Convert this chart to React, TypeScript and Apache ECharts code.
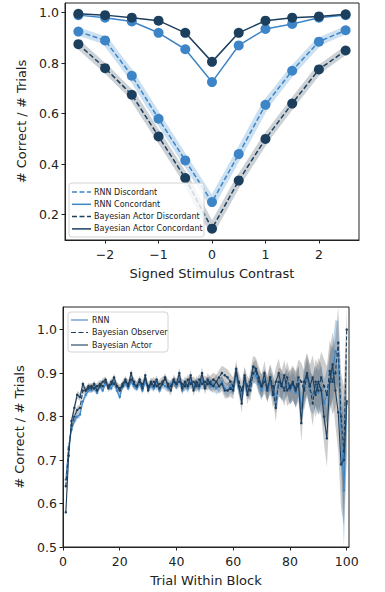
import React, { useEffect, useRef } from "react";
import * as echarts from "echarts";

// ---------- Top panel data ----------
const contrast = [-2.5, -2, -1.5, -1, -0.5, 0, 0.5, 1, 1.5, 2, 2.5];
const rnnDiscordant = [0.925, 0.89, 0.75, 0.58, 0.415, 0.25, 0.44, 0.635, 0.77, 0.885, 0.93];
const rnnConcordant = [0.99, 0.98, 0.965, 0.92, 0.855, 0.725, 0.87, 0.935, 0.955, 0.98, 0.99];
const actorDiscordant = [0.875, 0.78, 0.675, 0.51, 0.345, 0.145, 0.335, 0.5, 0.64, 0.775, 0.85];
const actorConcordant = [0.995, 0.99, 0.98, 0.968, 0.92, 0.805, 0.92, 0.968, 0.98, 0.985, 0.993];

const topXTicks = [-2, -1, 0, 1, 2];
const topYTicks = [0.2, 0.4, 0.6, 0.8, 1.0];
const topLegend = ["RNN Discordant", "RNN Concordant", "Bayesian Actor Discordant", "Bayesian Actor Concordant"];

// ---------- Bottom panel data ----------
const trials = Array.from({ length: 100 }, (_, i) => i + 1);
const rnnCurve = [
  0.655, 0.73, 0.77, 0.79, 0.8, 0.805, 0.835, 0.85, 0.86, 0.86,
  0.865, 0.855, 0.87, 0.86, 0.875, 0.87, 0.865, 0.88, 0.86, 0.845,
  0.87, 0.875, 0.865, 0.88, 0.87, 0.865, 0.875, 0.86, 0.88, 0.865,
  0.87, 0.865, 0.88, 0.86, 0.875, 0.87, 0.865, 0.875, 0.88, 0.87,
  0.885, 0.86, 0.875, 0.865, 0.88, 0.87, 0.875, 0.865, 0.885, 0.87,
  0.88, 0.87, 0.875, 0.865, 0.87, 0.88, 0.865, 0.86, 0.87, 0.865,
  0.895, 0.865, 0.85, 0.88, 0.86, 0.87, 0.9, 0.895, 0.875, 0.86,
  0.885, 0.86, 0.875, 0.87, 0.835, 0.875, 0.87, 0.865, 0.88, 0.86,
  0.87, 0.855, 0.88, 0.82, 0.865, 0.89, 0.86, 0.85, 0.87, 0.855,
  0.865, 0.83, 0.85, 0.88, 0.9, 0.95, 0.94, 0.78, 0.63, 0.83,
];
const observerCurve = [
  0.64, 0.725, 0.78, 0.8, 0.815, 0.82, 0.86, 0.86, 0.865, 0.87,
  0.865, 0.87, 0.875, 0.87, 0.88, 0.87, 0.88, 0.875, 0.87, 0.865,
  0.87, 0.88, 0.875, 0.885, 0.88, 0.87, 0.88, 0.875, 0.885, 0.87,
  0.875, 0.88, 0.87, 0.875, 0.88, 0.885, 0.875, 0.87, 0.88, 0.875,
  0.88, 0.875, 0.87, 0.885, 0.875, 0.88, 0.87, 0.885, 0.875, 0.88,
  0.875, 0.88, 0.885, 0.88, 0.89, 0.9, 0.895, 0.89, 0.88, 0.87,
  0.9, 0.88, 0.86, 0.89, 0.87, 0.86, 0.9, 0.905, 0.88, 0.87,
  0.88, 0.865, 0.89, 0.87, 0.82, 0.88, 0.875, 0.86, 0.89, 0.865,
  0.875, 0.865, 0.89, 0.88, 0.86, 0.895, 0.87, 0.83, 0.88, 0.86,
  0.89, 0.87, 0.85, 0.905, 0.88, 0.9, 0.97, 0.8, 0.72, 1.0,
];
const actorCurve = [
  0.58, 0.71, 0.79, 0.82, 0.85, 0.845, 0.875, 0.86, 0.87, 0.865,
  0.875, 0.86, 0.87, 0.88, 0.885, 0.865, 0.875, 0.89, 0.87, 0.86,
  0.875, 0.885, 0.87, 0.9, 0.875, 0.87, 0.885, 0.865, 0.895, 0.86,
  0.88, 0.87, 0.885, 0.865, 0.875, 0.89, 0.87, 0.86, 0.885, 0.875,
  0.9, 0.865, 0.88, 0.87, 0.895, 0.86, 0.88, 0.87, 0.9, 0.865,
  0.885, 0.875, 0.87, 0.88, 0.87, 0.875, 0.86, 0.86, 0.865, 0.86,
  0.91, 0.87, 0.83, 0.895, 0.85, 0.88, 0.915, 0.91, 0.89, 0.87,
  0.9, 0.86, 0.89, 0.85, 0.88, 0.9, 0.87, 0.895, 0.86, 0.87,
  0.88, 0.86, 0.875, 0.785, 0.88, 0.9, 0.87, 0.89, 0.85, 0.88,
  0.86, 0.8, 0.75, 0.88, 0.92, 0.86, 0.81, 0.69, 0.7, 0.835,
];
const bayesSpread = [
  0.012, 0.01, 0.01, 0.01, 0.009, 0.009, 0.008, 0.008, 0.008, 0.008,
  0.008, 0.008, 0.009, 0.008, 0.008, 0.009, 0.008, 0.009, 0.009, 0.009,
  0.009, 0.009, 0.01, 0.009, 0.01, 0.01, 0.009, 0.01, 0.01, 0.01,
  0.01, 0.011, 0.01, 0.011, 0.011, 0.01, 0.011, 0.012, 0.011, 0.012,
  0.012, 0.012, 0.013, 0.012, 0.013, 0.013, 0.014, 0.013, 0.014, 0.014,
  0.015, 0.015, 0.016, 0.016, 0.017, 0.017, 0.018, 0.018, 0.019, 0.02,
  0.02, 0.021, 0.022, 0.022, 0.023, 0.024, 0.025, 0.025, 0.026, 0.027,
  0.028, 0.029, 0.03, 0.031, 0.032, 0.033, 0.034, 0.035, 0.036, 0.037,
  0.038, 0.04, 0.041, 0.043, 0.045, 0.047, 0.049, 0.051, 0.053, 0.056,
  0.059, 0.062, 0.066, 0.07, 0.075, 0.08, 0.09, 0.1, 0.15, 0.12,
];
const rnnSpread = [
  0.01, 0.009, 0.008, 0.008, 0.007, 0.007, 0.007, 0.006, 0.006, 0.006,
  0.006, 0.006, 0.006, 0.006, 0.006, 0.007, 0.006, 0.007, 0.007, 0.007,
  0.007, 0.007, 0.007, 0.007, 0.008, 0.007, 0.008, 0.008, 0.008, 0.008,
  0.008, 0.008, 0.009, 0.008, 0.009, 0.009, 0.009, 0.009, 0.01, 0.009,
  0.01, 0.01, 0.01, 0.011, 0.011, 0.011, 0.012, 0.011, 0.012, 0.012,
  0.012, 0.013, 0.013, 0.014, 0.014, 0.014, 0.015, 0.015, 0.016, 0.016,
  0.017, 0.017, 0.018, 0.019, 0.019, 0.02, 0.021, 0.021, 0.022, 0.023,
  0.024, 0.024, 0.025, 0.026, 0.027, 0.028, 0.029, 0.03, 0.031, 0.032,
  0.033, 0.034, 0.036, 0.037, 0.039, 0.041, 0.043, 0.045, 0.047, 0.05,
  0.052, 0.055, 0.058, 0.062, 0.066, 0.072, 0.08, 0.095, 0.16, 0.12,
];

const bottomXTicks = [0, 20, 40, 60, 80, 100];
const bottomYTicks = [0.5, 0.6, 0.7, 0.8, 0.9, 1.0];
const bottomLegend = ["RNN", "Bayesian Observer", "Bayesian Actor"];

// ---------- Styles ----------
const LIGHT = "#3d85c6";
const DARK = "#1d3f5e";
const INK = "#222222";
const FONT = "DejaVu Sans";
const DASH = [5, 2.5];
const BOTTOM_MIN = 0.5;
const BOTTOM_MAX = 1.052;

const pairs = (xs: number[], ys: number[]) => xs.map((x, i) => [x, ys[i]]);

function axisCommon(ticks: number[], fmt: (v: number) => string) {
  return {
    type: "value" as const,
    axisLine: { show: true, onZero: false, lineStyle: { color: INK, width: 1 } },
    axisTick: { show: true, length: 3.5, customValues: ticks, lineStyle: { color: INK, width: 1 } },
    axisLabel: { customValues: ticks, formatter: fmt, color: INK, fontSize: 12.5, fontFamily: FONT },
    splitLine: { show: false },
    nameLocation: "middle" as const,
    nameTextStyle: { color: INK, fontSize: 13, fontFamily: FONT },
  };
}

function bandSeries(center: number[], spread: number[], fill: string) {
  return {
    type: "custom",
    xAxisIndex: 1,
    yAxisIndex: 1,
    silent: true,
    z: 1,
    data: [[50, 0.8]],
    renderItem: (_params: any, api: any) => {
      const upper = trials.map((t, i) => api.coord([t, Math.min(center[i] + spread[i], BOTTOM_MAX)]));
      const lower = trials
        .map((t, i) => api.coord([t, Math.max(center[i] - spread[i], BOTTOM_MIN)]))
        .reverse();
      return { type: "polygon", shape: { points: upper.concat(lower) }, style: { fill } };
    },
  };
}

function legendGraphics(
  box: { x: number; y: number; w: number; h: number },
  rows: { label: string; color: string; dashed: boolean; width: number }[],
  firstY: number,
  step: number,
  lineX1: number,
  lineX2: number,
  textX: number
) {
  const els: any[] = [
    {
      type: "rect",
      z: 100,
      shape: { x: box.x, y: box.y, width: box.w, height: box.h, r: 3 },
      style: { fill: "rgba(255,255,255,0.8)", stroke: "#d4d4d4", lineWidth: 1 },
    },
  ];
  rows.forEach((r, i) => {
    const y = firstY + i * step;
    els.push({
      type: "line",
      z: 101,
      shape: { x1: lineX1, y1: y, x2: lineX2, y2: y },
      style: { stroke: r.color, lineWidth: r.width, lineDash: r.dashed ? DASH : null },
    });
    els.push({
      type: "text",
      z: 101,
      x: textX,
      y,
      style: { text: r.label, fontSize: 8, fontFamily: FONT, fill: INK, verticalAlign: "middle", align: "left" },
    });
  });
  return els;
}

export default function App() {
  const ref = useRef<HTMLDivElement>(null);
  useEffect(() => {
    if (!ref.current) return;
    const chart = echarts.init(ref.current, undefined, { renderer: "svg" });
    const tickFmt1 = (v: number) => v.toFixed(1);
    const option: any = {
      animation: false,
      backgroundColor: "#ffffff",
      grid: [
        { left: 65, top: 3, width: 294, height: 237, show: true, borderColor: INK, borderWidth: 1, backgroundColor: "transparent" },
        { left: 63, top: 307, width: 286, height: 240, show: true, borderColor: INK, borderWidth: 1, backgroundColor: "transparent" },
      ],
      xAxis: [
        {
          ...axisCommon(topXTicks, (v: number) => String(v).replace("-", "\u2212")),
          gridIndex: 0,
          min: -2.75,
          max: 2.75,
          name: "Signed Stimulus Contrast",
          nameGap: 27,
          axisLabel: { ...axisCommon(topXTicks, (v: number) => String(v).replace("-", "\u2212")).axisLabel, margin: 8 },
        },
        {
          ...axisCommon(bottomXTicks, (v: number) => String(v)),
          gridIndex: 1,
          min: 0,
          max: 100.8,
          name: "Trial Within Block",
          nameGap: 27,
          axisLabel: { ...axisCommon(bottomXTicks, (v: number) => String(v)).axisLabel, margin: 8 },
        },
      ],
      yAxis: [
        {
          ...axisCommon(topYTicks, tickFmt1),
          gridIndex: 0,
          min: 0.1,
          max: 1.038,
          name: "# Correct / # Trials",
          nameGap: 34,
          axisLabel: { ...axisCommon(topYTicks, tickFmt1).axisLabel, margin: 6 },
        },
        {
          ...axisCommon(bottomYTicks, tickFmt1),
          gridIndex: 1,
          min: BOTTOM_MIN,
          max: BOTTOM_MAX,
          name: "# Correct / # Trials",
          nameGap: 33,
          axisLabel: { ...axisCommon(bottomYTicks, tickFmt1).axisLabel, margin: 6 },
        },
      ],
      series: [
        // top panel: shaded bands under discordant curves
        {
          type: "line",
          xAxisIndex: 0,
          yAxisIndex: 0,
          data: pairs(contrast, rnnDiscordant),
          showSymbol: false,
          silent: true,
          z: 1,
          lineStyle: { width: 8, color: "#a9cbe8", opacity: 0.6 },
        },
        {
          type: "line",
          xAxisIndex: 0,
          yAxisIndex: 0,
          data: pairs(contrast, actorDiscordant),
          showSymbol: false,
          silent: true,
          z: 1,
          lineStyle: { width: 8, color: "#8e99a4", opacity: 0.45 },
        },
        {
          name: topLegend[0],
          type: "line",
          xAxisIndex: 0,
          yAxisIndex: 0,
          data: pairs(contrast, rnnDiscordant),
          symbol: "circle",
          symbolSize: 10,
          z: 2,
          itemStyle: { color: LIGHT },
          lineStyle: { color: LIGHT, width: 1.5, type: DASH },
        },
        {
          name: topLegend[1],
          type: "line",
          xAxisIndex: 0,
          yAxisIndex: 0,
          data: pairs(contrast, rnnConcordant),
          symbol: "circle",
          symbolSize: 10,
          z: 2,
          itemStyle: { color: LIGHT },
          lineStyle: { color: LIGHT, width: 1.5 },
        },
        {
          name: topLegend[2],
          type: "line",
          xAxisIndex: 0,
          yAxisIndex: 0,
          data: pairs(contrast, actorDiscordant),
          symbol: "circle",
          symbolSize: 10,
          z: 3,
          itemStyle: { color: DARK },
          lineStyle: { color: DARK, width: 1.5, type: DASH },
        },
        {
          name: topLegend[3],
          type: "line",
          xAxisIndex: 0,
          yAxisIndex: 0,
          data: pairs(contrast, actorConcordant),
          symbol: "circle",
          symbolSize: 10,
          z: 3,
          itemStyle: { color: DARK },
          lineStyle: { color: DARK, width: 1.5 },
        },
        // bottom panel bands
        bandSeries(rnnCurve, rnnSpread, "rgba(61,133,198,0.35)"),
        bandSeries(observerCurve, bayesSpread, "rgba(90,90,90,0.3)"),
        bandSeries(actorCurve, bayesSpread, "rgba(90,90,90,0.3)"),
        {
          name: bottomLegend[0],
          type: "line",
          xAxisIndex: 1,
          yAxisIndex: 1,
          data: pairs(trials, rnnCurve),
          symbol: "circle",
          symbolSize: 2.5,
          z: 2,
          itemStyle: { color: LIGHT },
          lineStyle: { color: LIGHT, width: 1.1 },
        },
        {
          name: bottomLegend[1],
          type: "line",
          xAxisIndex: 1,
          yAxisIndex: 1,
          data: pairs(trials, observerCurve),
          symbol: "circle",
          symbolSize: 2.5,
          z: 3,
          itemStyle: { color: DARK },
          lineStyle: { color: DARK, width: 1.1, type: [4, 2] },
        },
        {
          name: bottomLegend[2],
          type: "line",
          xAxisIndex: 1,
          yAxisIndex: 1,
          data: pairs(trials, actorCurve),
          symbol: "circle",
          symbolSize: 2.5,
          z: 4,
          itemStyle: { color: DARK },
          lineStyle: { color: DARK, width: 1.1 },
        },
      ],
      graphic: [
        ...legendGraphics(
          { x: 69, y: 183, w: 135, h: 54 },
          [
            { label: topLegend[0], color: LIGHT, dashed: true, width: 1.5 },
            { label: topLegend[1], color: LIGHT, dashed: false, width: 1.5 },
            { label: topLegend[2], color: DARK, dashed: true, width: 1.5 },
            { label: topLegend[3], color: DARK, dashed: false, width: 1.5 },
          ],
          192,
          12.3,
          72,
          91,
          94
        ),
        ...legendGraphics(
          { x: 68, y: 312, w: 100, h: 40 },
          [
            { label: bottomLegend[0], color: LIGHT, dashed: false, width: 1.1 },
            { label: bottomLegend[1], color: DARK, dashed: true, width: 1.1 },
            { label: bottomLegend[2], color: DARK, dashed: false, width: 1.1 },
          ],
          320,
          12.5,
          71,
          88,
          92
        ),
      ],
    };
    chart.setOption(option);
    return () => chart.dispose();
  }, []);
  return (
    <div
      ref={ref}
      style={{ position: "fixed", left: 0, top: 0, width: 385, height: 592, background: "#fff" }}
    />
  );
}
